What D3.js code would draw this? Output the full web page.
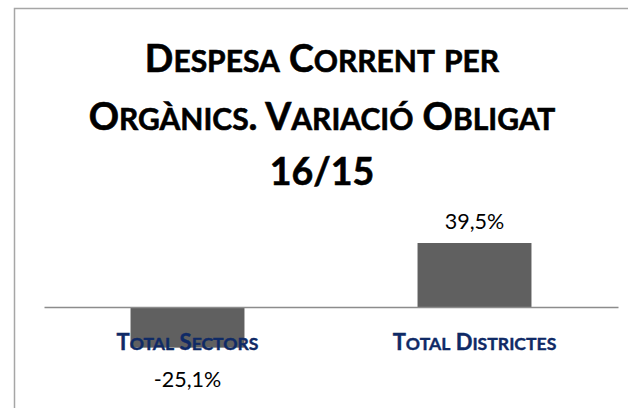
<!DOCTYPE html>
<html>
<head>
<meta charset="utf-8">
<script src="https://cdn.jsdelivr.net/npm/d3@7/dist/d3.min.js"></script>
<style>
  html, body { margin: 0; padding: 0; background: #fff; }
  svg { display: block; }
</style>
</head>
<body>
<svg id="chart" width="628" height="408"></svg>
<script>
// ---- data ----
const titleLines = ["Despesa Corrent per", "Orgànics. Variació Obligat", "16/15"];
const categories = ["Total Sectors", "Total Districtes"];
const values = [-25.1, 39.5];
const valueLabels = ["-25,1%", "39,5%"];

const W = 628, H = 408;
const svg = d3.select("#chart");
const FONT = "Lato, 'Open Sans', 'DejaVu Sans', sans-serif";

// outer chart border (extends beyond the cropped picture)
svg.append("rect")
  .attr("x", 14.5).attr("y", 8.5)
  .attr("width", 640).attr("height", 420)
  .attr("fill", "#fff").attr("stroke", "#a6a6a6").attr("stroke-width", 1.5);

// small-caps helper: lowercase letters become smaller capitals
function smallCaps(textSel, str, size, ratio) {
  const parts = [];
  for (const ch of str) {
    const lower = ch !== ch.toUpperCase();
    const last = parts[parts.length - 1];
    if (last && last.lower === lower) last.s += ch;
    else parts.push({ lower, s: ch });
  }
  textSel.selectAll("tspan").data(parts).join("tspan")
    .attr("font-size", d => d.lower ? size * ratio : size)
    .text(d => d.lower ? d.s.toUpperCase() : d.s);
}

// scales
const plotLeft = 44, plotRight = 618, zeroY = 307;
const x = d3.scaleBand().domain(categories).range([plotLeft, plotRight])
  .paddingInner(0.603).paddingOuter(0.3015);
const pxPerUnit = 1.62;
const y = d3.scaleLinear().domain([-40, 50])
  .range([zeroY + 40 * pxPerUnit, zeroY - 50 * pxPerUnit]);

const cx = 322;

// title
const titleBase = [72, 129.5, 185];
titleLines.forEach((line, i) => {
  const t = svg.append("text")
    .attr("x", cx).attr("y", titleBase[i])
    .attr("text-anchor", "middle")
    .attr("font-family", FONT).attr("font-weight", "bold")
    .attr("stroke", "#000").attr("stroke-width", 0.6)
    .attr("fill", "#000");
  smallCaps(t, line, 37.5, 0.8);
});

// bars
svg.selectAll("rect.bar").data(values).join("rect")
  .attr("class", "bar")
  .attr("x", (d, i) => x(categories[i]))
  .attr("width", x.bandwidth())
  .attr("y", d => Math.min(y(d), y(0)))
  .attr("height", d => Math.abs(y(d) - y(0)))
  .attr("fill", "#606060");

// zero axis line
const axis = d3.axisBottom(x).tickSize(0).tickFormat("");
const axG = svg.append("g").attr("transform", `translate(0,${y(0)})`).call(axis);
axG.select(".domain").attr("stroke", "#8c8c8c").attr("stroke-width", 1.5);

// category labels
categories.forEach((c, i) => {
  const t = svg.append("text")
    .attr("x", x(c) + x.bandwidth() / 2).attr("y", 349.5)
    .attr("text-anchor", "middle")
    .attr("font-family", FONT).attr("font-weight", "bold")
    .attr("stroke", "#0f2a66").attr("stroke-width", 0.4)
    .attr("fill", "#0f2a66");
  smallCaps(t, c, 22, 0.8);
});

// value labels
svg.selectAll("text.val").data(values).join("text")
  .attr("class", "val")
  .attr("x", (d, i) => x(categories[i]) + x.bandwidth() / 2)
  .attr("y", d => d >= 0 ? y(d) - 14 : y(d) + 39)
  .attr("text-anchor", "middle")
  .attr("font-family", FONT).attr("font-size", 21.5)
  .attr("fill", "#000")
  .text((d, i) => valueLabels[i]);
</script>
</body>
</html>
